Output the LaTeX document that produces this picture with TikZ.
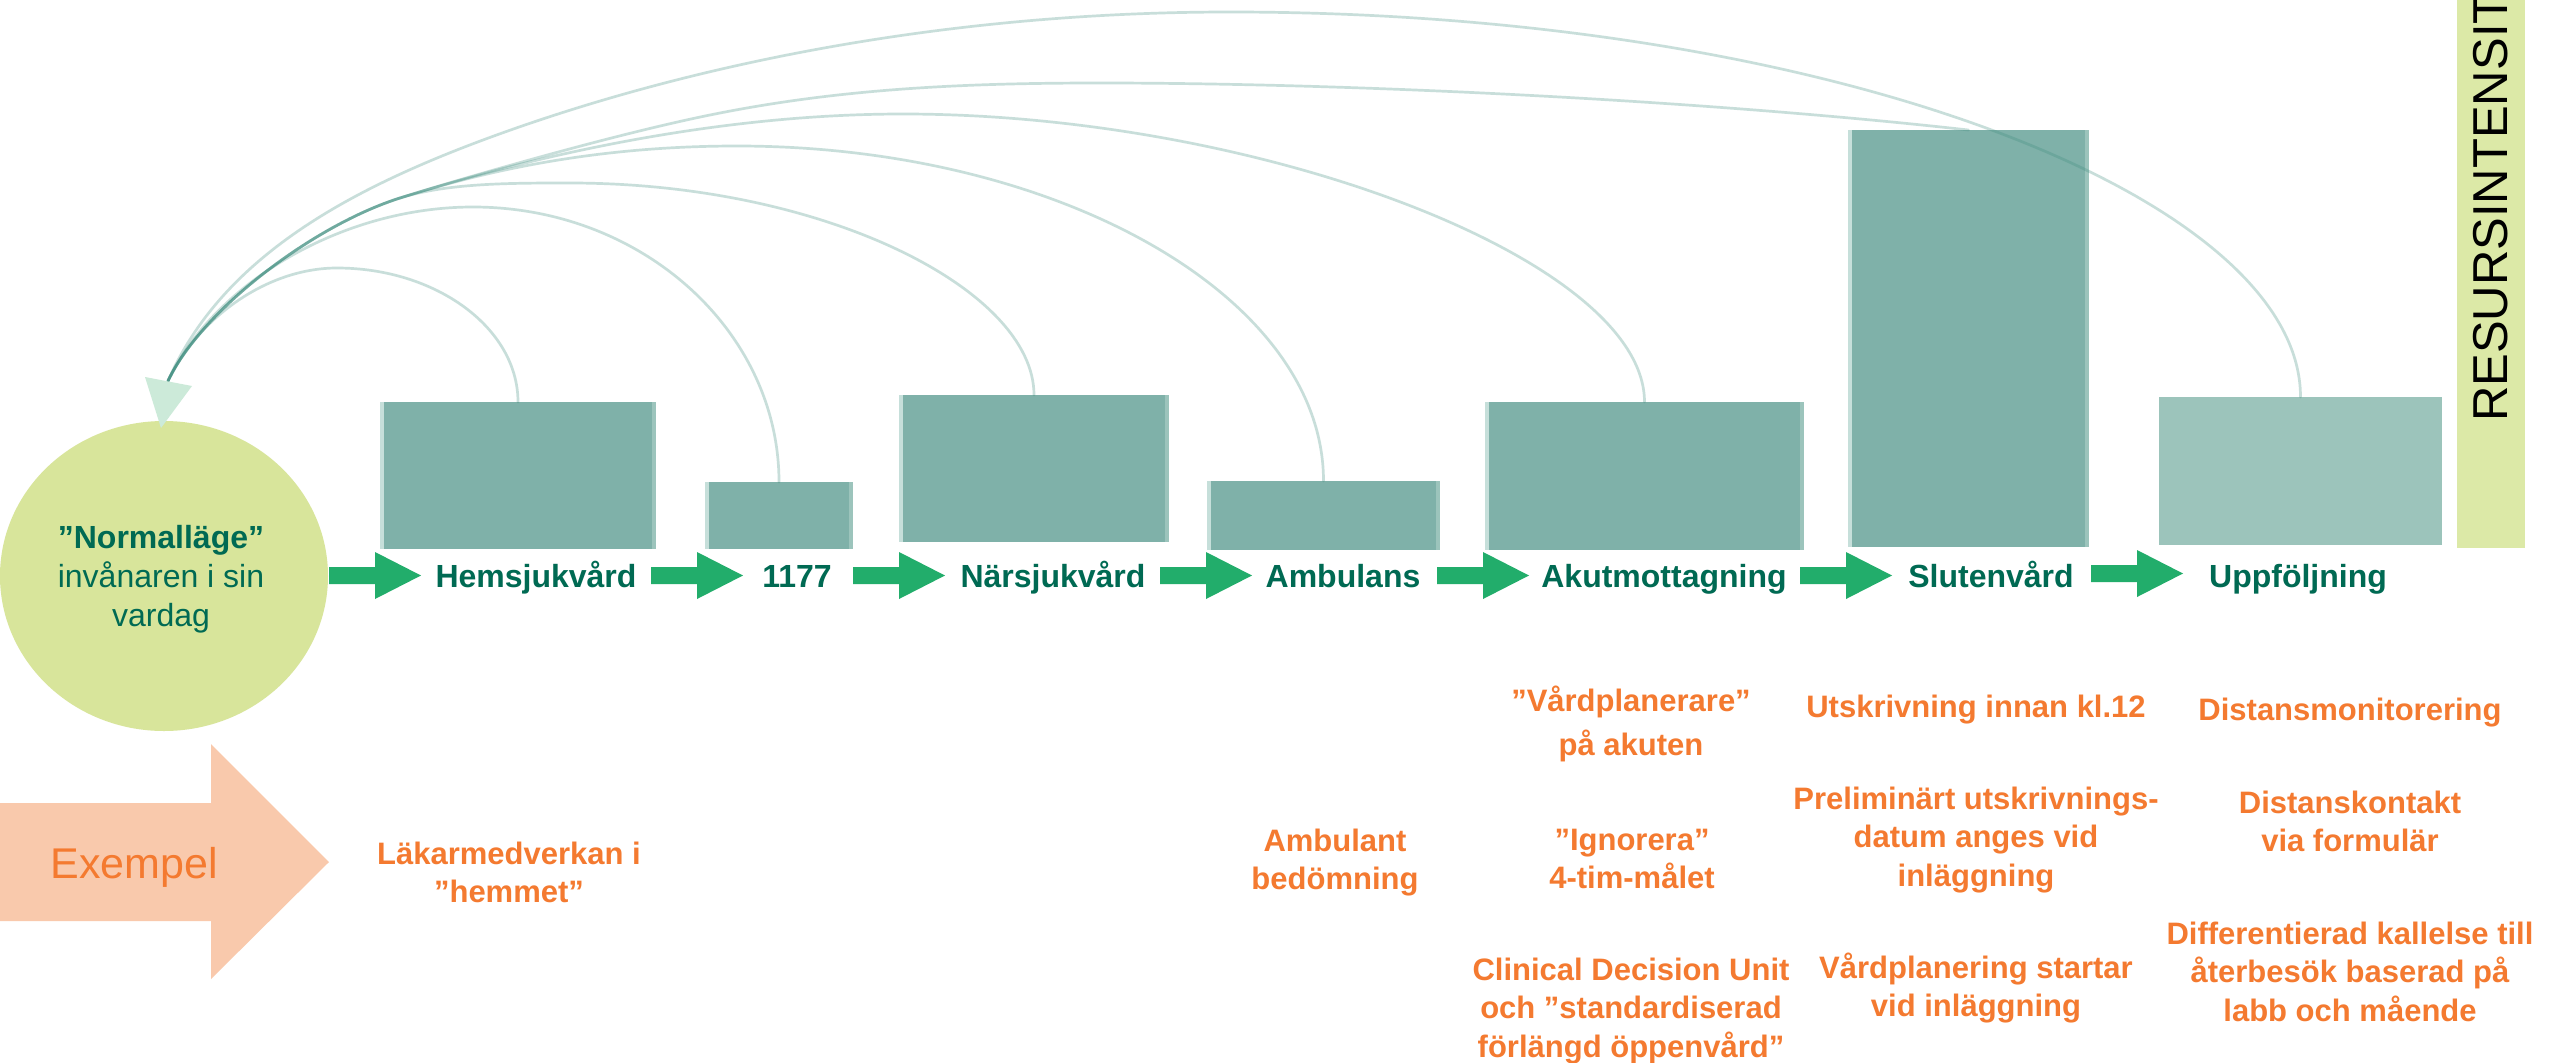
\documentclass[tikz,border=0pt]{standalone}
\usepackage{fontspec}
\setmainfont{Liberation Sans}
\usetikzlibrary{shapes.geometric}
\definecolor{circc}{HTML}{D8E59B}
\definecolor{boxc}{HTML}{7FB1A9}
\definecolor{boxlight}{HTML}{C6DFDA}
\definecolor{boxright}{HTML}{9CC4BC}
\definecolor{uppc}{HTML}{9CC4BB}
\definecolor{barc}{HTML}{DCE9A7}
\definecolor{flowgreen}{HTML}{22AD6B}
\definecolor{labelgreen}{HTML}{006A53}
\definecolor{orangec}{HTML}{F47A30}
\definecolor{exfill}{HTML}{F9C9AC}
\definecolor{headc}{HTML}{CCEAD9}
\definecolor{linkc}{HTML}{3C8C7D}
\tikzset{
  boxn/.style={fill=boxc, inner sep=0pt, outer sep=0pt, anchor=north west,
    path picture={
      \fill[boxlight] (path picture bounding box.north west) rectangle ([xshift=4pt]path picture bounding box.south west);
      \fill[boxright] ([xshift=-4pt]path picture bounding box.north east) rectangle (path picture bounding box.south east);}},
  lbl/.style={font=\bfseries\fontsize{32}{38}\selectfont, text=labelgreen, anchor=base, inner sep=0pt},
  extxt/.style={font=\bfseries\fontsize{31}{38.5}\selectfont, text=orangec, anchor=base, align=center, inner sep=0pt},
  link/.style={draw=linkc, line width=2.7pt, opacity=0.28, line cap=round},
  blockarr/.pic={\fill[flowgreen] (0,-8.5) -- (46,-8.5) -- (46,-23.5) -- (92,0) -- (46,23.5) -- (46,8.5) -- (0,8.5) -- cycle;}
}
\begin{document}
\begin{tikzpicture}[x=1pt,y=-1pt]
\useasboundingbox (0,0) rectangle (2552,1063);
\fill[white] (0,0) rectangle (2552,1063);

% resource bar
\begin{scope}
  \clip (2457,0) rectangle (2525,548);
  \fill[barc] (2457,0) rectangle (2525,548);
  \node[rotate=90, anchor=base west, inner sep=0pt, font=\fontsize{49}{55}\selectfont, text=black] (resurs) at (2507,422) {RESURSINTENSITET};
\end{scope}

% circle
\node[ellipse, fill=circc, minimum width=328pt, minimum height=310pt, inner sep=0pt] (norm) at (164,576) {};
\node[anchor=base, align=center, inner sep=0pt, text=labelgreen, font=\fontsize{32}{39}\selectfont] (normtxt) at (161,626) {\textbf{”Normalläge”}\\invånaren i sin\\vardag};

% boxes
\node[boxn, minimum width=276pt, minimum height=147pt] (hem) at (380,402) {};
\node[boxn, minimum width=148pt, minimum height=67pt] (p1177) at (705,482) {};
\node[boxn, minimum width=270pt, minimum height=147pt] (nar) at (899,395) {};
\node[boxn, minimum width=233pt, minimum height=69pt] (amb) at (1207,481) {};
\node[boxn, minimum width=319pt, minimum height=148pt] (akut) at (1485,402) {};
\node[boxn, minimum width=241pt, minimum height=417pt] (slut) at (1848,130) {};
\node[fill=uppc, inner sep=0pt, outer sep=0pt, anchor=north west, minimum width=283pt, minimum height=148pt] (upp) at (2159,397) {};

% connector end and shared bundle point
\coordinate (arrowend) at (168,381);
\coordinate (bundle) at (400,198);

% curves
\draw[link] (hem.north) .. controls +(0,-74) and +(99,0) .. (337,268)
  .. controls +(-70,0) and +(30,-63) .. (arrowend);
\draw[link] (p1177.north) .. controls +(0,-150) and +(170,0) .. (473,207)
  .. controls +(-130,0) and +(47,-99) .. (arrowend);
\draw[link] (nar.north) .. controls +(0,-105) and +(255,0) .. (570,183)
  .. controls +(-60,0) and +(47.5,-15) .. (bundle)
  .. controls +(-85.5,27) and +(34,-72) .. (arrowend);
\draw[link] (amb.north) .. controls +(0,-185) and +(320,0) .. (737,146)
  .. controls +(-150,0) and +(76,-24) .. (bundle)
  .. controls +(-85.5,27) and +(34,-72) .. (arrowend);
\draw[link] (akut.north) .. controls +(0,-142) and +(357,0) .. (903,114)
  .. controls +(-200,0) and +(114,-36) .. (bundle)
  .. controls +(-85.5,27) and +(34,-72) .. (arrowend);
\draw[link] (slut.north) .. controls (1700,100) and +(250,0) .. (1100,83)
  .. controls +(-130,0) and +(127,-25) .. (720,113)
  .. controls +(-98,19) and +(66.5,-21) .. (bundle)
  .. controls +(-85.5,27) and +(34,-72) .. (arrowend);
\draw[link] (upp.north) .. controls +(0,-200) and +(600,0) .. (1230,12)
  .. controls +(-300,0) and +(188,-70) .. (483,140)
  .. controls +(-141,52.5) and +(52,-120) .. (arrowend);

% arrow head
\fill[headc] (145,377) -- (192,386) -- (161,428) -- cycle;

% flow arrows
\pic at (329,575.5) {blockarr};
\pic at (651,575.5) {blockarr};
\pic at (853,575.5) {blockarr};
\pic at (1160,575.5) {blockarr};
\pic at (1437,575.5) {blockarr};
\pic at (1800,575.5) {blockarr};
\pic at (2091,573.5) {blockarr};

% labels
\node[lbl] (hemL) at (536,587) {Hemsjukvård};
\node[lbl] (p1177L) at (797,587) {1177};
\node[lbl] (narL) at (1053,587) {Närsjukvård};
\node[lbl] (ambL) at (1343,587) {Ambulans};
\node[lbl] (akutL) at (1664,587) {Akutmottagning};
\node[lbl] (slutL) at (1991,587) {Slutenvård};
\node[lbl] (uppL) at (2298,587) {Uppföljning};

% Exempel arrow
\fill[exfill] (0,803) -- (211,803) -- (211,744) -- (329,862) -- (211,979) -- (211,921) -- (0,921) -- cycle;
\node[anchor=base, inner sep=0pt, text=orangec, font=\fontsize{43}{50}\selectfont] (exempel) at (134,878) {Exempel};

% examples (y = baseline of last line)
\node[extxt] (lak) at (509,902.5) {Läkarmedverkan i\\”hemmet”};
\node[extxt] (ambul) at (1335,889.5) {Ambulant\\bedömning};
\node[extxt] (vpl) at (1631,755.5) {”Vårdplanerare”\\[6pt]på akuten};
\node[extxt] (ign) at (1632,888.5) {”Ignorera”\\4-tim-målet};
\node[extxt] (cdu) at (1631,1057) {Clinical Decision Unit\\och ”standardiserad\\förlängd öppenvård”};
\node[extxt] (utsk) at (1976,717) {Utskrivning innan kl.12};
\node[extxt] (prel) at (1976,886) {Preliminärt utskrivnings-\\datum anges vid\\inläggning};
\node[extxt] (vpls) at (1976,1016.5) {Vårdplanering startar\\vid inläggning};
\node[extxt] (dmon) at (2350,720) {Distansmonitorering};
\node[extxt] (dkon) at (2350,851.5) {Distanskontakt\\via formulär};
\node[extxt] (diff) at (2350,1021) {Differentierad kallelse till\\återbesök baserad på\\labb och mående};
\end{tikzpicture}
\end{document}
